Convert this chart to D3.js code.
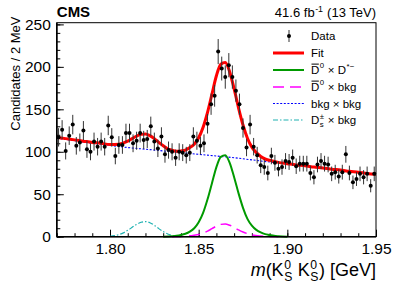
<!DOCTYPE html>
<html lang="en">
  <head>
    <meta charset="utf-8" />
    <title>m(KS KS) fit</title>
    <style>
      body { margin: 0; background: #fff; }
      svg text { font-family: "Liberation Sans", Arial, Helvetica, sans-serif; white-space: pre; }
    </style>
    <script src="https://cdn.jsdelivr.net/npm/d3@7/dist/d3.min.js"></script>
  </head>
  <body>
    <div id="main"></div>
    <script>
      // data: 2 MeV bins from 1.770 to 1.950 GeV (bin centers 1.771 ... 1.949)
      var binLo = 1.77, binW = 0.002;
      var counts = [
        117, 126, 101, 119, 132, 107, 111, 125, 103, 100,
        112, 106, 112, 106, 131, 117, 95, 108, 108, 122,
        122, 110, 113, 122, 114, 115, 130, 112, 104, 118,
        97, 102, 100, 93, 100, 99, 96, 99, 118, 113,
        107, 110, 133, 156, 166, 218, 198, 188, 202, 188,
        172, 156, 128, 105, 132, 106, 96, 84, 82, 75,
        95, 87, 80, 82, 89, 88, 93, 83, 86, 86,
        86, 75, 70, 85, 89, 86, 85, 74, 76, 71,
        76, 97, 75, 64, 68, 74, 70, 74, 60, 74
      ];

      // total fit
      var fitM = [1.77, 1.775, 1.78, 1.785, 1.79, 1.795, 1.8, 1.805, 1.81, 1.8125,
        1.815, 1.8175, 1.82, 1.8225, 1.825, 1.8275, 1.83, 1.8325, 1.835, 1.8375,
        1.84, 1.8425, 1.845, 1.8475, 1.85, 1.8525, 1.855, 1.8575, 1.86, 1.8625,
        1.865, 1.8675, 1.87, 1.8725, 1.875, 1.8775, 1.88, 1.8825, 1.885, 1.8875,
        1.89, 1.895, 1.9, 1.905, 1.91, 1.915, 1.92, 1.925, 1.93, 1.935,
        1.94, 1.945, 1.95];
      var fitV = [117, 115.5, 114, 112.5, 111, 110, 108.5, 109, 112.5, 115.5,
        118.5, 120.5, 121, 119, 115.5, 111, 107, 103.5, 102, 100.5,
        101, 102, 105, 109, 116.5, 129, 146.5, 168, 189.5, 203,
        205, 194, 174, 151.5, 131.5, 116, 105.5, 99, 94.5, 91.5,
        90, 87.5, 86, 84.5, 83.5, 82, 81, 79.5, 78.5, 77,
        76, 74.5, 73.5];

      // D0bar x D*- component
      var sigM = [1.83, 1.835, 1.8375, 1.84, 1.8425, 1.845, 1.8475, 1.85, 1.8525, 1.855,
        1.8575, 1.86, 1.8625, 1.865, 1.8675, 1.87, 1.8725, 1.875, 1.8775, 1.88,
        1.8825, 1.885, 1.8875, 1.89, 1.8925, 1.895, 1.9];
      var sigV = [0, 0.5, 1, 2, 3.5, 6, 10, 17, 28, 44,
        63, 82, 94, 96, 87, 70, 51, 34, 21, 13,
        8, 5, 3, 2, 1, 0.5, 0];

      // D0bar x bkg component
      var d0bkgM = [1.835, 1.84, 1.845, 1.85, 1.855, 1.8575, 1.86, 1.8625, 1.865, 1.8675,
        1.87, 1.8725, 1.875, 1.88, 1.885, 1.89, 1.895];
      var d0bkgV = [0, 0.3, 1, 2.5, 6.5, 9.5, 12.5, 14.5, 15, 13.5,
        11, 8, 5.5, 2.2, 0.8, 0.2, 0];

      // bkg x bkg component
      var bkgM = [1.77, 1.78, 1.79, 1.8, 1.81, 1.82, 1.83, 1.84, 1.85, 1.86,
        1.87, 1.88, 1.89, 1.9, 1.91, 1.92, 1.93, 1.94, 1.95];
      var bkgV = [116, 113, 110, 107.5, 105, 103, 101, 99, 97, 95,
        93, 90.5, 88, 86, 83.5, 81, 78.5, 76, 73.5];

      // Ds x bkg component
      var dsM = [1.8, 1.8025, 1.805, 1.8075, 1.81, 1.8125, 1.815, 1.8175, 1.82, 1.8225,
        1.825, 1.8275, 1.83, 1.8325, 1.835, 1.8375, 1.84];
      var dsV = [0.5, 1.2, 2.5, 4.5, 7.5, 11, 14.5, 17, 17.8, 16.5,
        13.5, 9.5, 6, 3.2, 1.5, 0.6, 0.2];

      var xTicks = [1.8, 1.85, 1.9, 1.95];
      var yTicks = [0, 50, 100, 150, 200, 250];

      var W = 399, H = 286;
      var pLeft = 56.8, pRight = 376, pTop = 22.7, pBottom = 236.7;

      var svg = d3
        .select("#main")
        .append("svg")
        .attr("width", W)
        .attr("height", H);

      var x = d3.scaleLinear().domain([1.77, 1.95]).range([pLeft, pRight]);
      var y = d3.scaleLinear().domain([0, 252]).range([pBottom, pTop]);

      // rich text: pieces with stacked super/subscripts
      function rich(g, px, py, parts, size, anchor, weight) {
        var grp = g.append("g");
        var cx = 0;
        parts.forEach(function (p) {
          if (p.t !== undefined) {
            var el = grp
              .append("text")
              .attr("x", cx)
              .attr("y", 0)
              .style("font-size", size + "px")
              .style("font-style", p.it ? "italic" : "normal")
              .style("font-weight", weight || "normal")
              .text(p.t);
            var w = el.node().getComputedTextLength();
            if (p.over) {
              grp
                .append("line")
                .attr("x1", cx + 0.5)
                .attr("x2", cx + w - 0.5)
                .attr("y1", -size * 0.86)
                .attr("y2", -size * 0.86)
                .attr("stroke", "#000")
                .attr("stroke-width", 1);
            }
            cx += w;
          } else {
            var ss = size * 0.68, w = 0;
            if (p.sup) {
              var e1 = grp
                .append("text")
                .attr("x", cx + 0.5)
                .attr("y", -size * (p.over ? 0.55 : 0.4))
                .style("font-size", ss + "px")
                .text(p.sup);
              w = Math.max(w, e1.node().getComputedTextLength());
            }
            if (p.sub) {
              var e2 = grp
                .append("text")
                .attr("x", cx + 0.5)
                .attr("y", size * 0.28)
                .style("font-size", ss + "px")
                .text(p.sub);
              w = Math.max(w, e2.node().getComputedTextLength());
            }
            cx += w + 1;
          }
        });
        var ox = anchor === "end" ? px - cx : px;
        grp.attr("transform", "translate(" + ox + "," + py + ")");
        return grp;
      }

      // axes (ticks point inward)
      var yMinor = d3.range(0, 251, 10);
      var xMinor = d3.range(1.77, 1.9501, 0.01);

      svg
        .append("g")
        .attr("transform", "translate(" + pLeft + ",0)")
        .call(d3.axisLeft(y).tickValues(yMinor).tickSize(-3.5).tickFormat(""))
        .call((g) => g.select(".domain").remove());
      svg
        .append("g")
        .attr("class", "y axis")
        .attr("transform", "translate(" + pLeft + ",0)")
        .call(d3.axisLeft(y).tickValues(yTicks).tickSize(-7).tickPadding(6))
        .call((g) => g.select(".domain").remove());

      svg
        .append("g")
        .attr("transform", "translate(0," + pBottom + ")")
        .call(d3.axisBottom(x).tickValues(xMinor).tickSize(-3.5).tickFormat(""))
        .call((g) => g.select(".domain").remove());
      svg
        .append("g")
        .attr("class", "x axis")
        .attr("transform", "translate(0," + pBottom + ")")
        .call(
          d3.axisBottom(x).tickValues(xTicks).tickSize(-7).tickPadding(6)
            .tickFormat(d3.format(".2f"))
        )
        .call((g) => g.select(".domain").remove());

      svg.selectAll(".axis text")
        .style("font-family", '"Liberation Sans", Arial, sans-serif')
        .style("font-size", "15.5px")
        .attr("fill", "#000");
      svg.selectAll(".tick line").attr("stroke", "#000");

      // curves
      function curve(ms, vs) {
        return d3
          .line()
          .x((d, i) => x(ms[i]))
          .y((d) => y(d))
          .curve(d3.curveMonotoneX)(vs);
      }

      var plot = svg.append("g");

      plot.append("path")
        .attr("d", curve(bkgM, bkgV))
        .attr("fill", "none")
        .attr("stroke", "#0000ff")
        .attr("stroke-width", 1.1)
        .attr("stroke-dasharray", "2,1.6");

      plot.append("path")
        .attr("d", curve(dsM, dsV))
        .attr("fill", "none")
        .attr("stroke", "#20b2b2")
        .attr("stroke-width", 1.2)
        .attr("stroke-dasharray", "5,2,1.5,2");

      plot.append("path")
        .attr("d", curve(d0bkgM, d0bkgV))
        .attr("fill", "none")
        .attr("stroke", "#ff00ff")
        .attr("stroke-width", 1.5)
        .attr("stroke-dasharray", "11,6");

      plot.append("path")
        .attr("d", curve(sigM, sigV))
        .attr("fill", "none")
        .attr("stroke", "#009a00")
        .attr("stroke-width", 2);

      plot.append("path")
        .attr("d", curve(fitM, fitV))
        .attr("fill", "none")
        .attr("stroke", "#ff0000")
        .attr("stroke-width", 3);

      // data points with Poisson errors
      var pts = plot
        .selectAll("g.pt")
        .data(counts)
        .enter()
        .append("g")
        .attr("class", "pt");

      pts.append("line")
        .attr("x1", (d, i) => x(binLo + (i + 0.5) * binW))
        .attr("x2", (d, i) => x(binLo + (i + 0.5) * binW))
        .attr("y1", (d) => y(d - Math.sqrt(d)))
        .attr("y2", (d) => y(d + Math.sqrt(d)))
        .attr("stroke", "#333")
        .attr("stroke-width", 1);

      pts.append("circle")
        .attr("cx", (d, i) => x(binLo + (i + 0.5) * binW))
        .attr("cy", (d) => y(d))
        .attr("r", 2)
        .attr("fill", "#000");

      // frame
      svg.append("rect")
        .attr("x", pLeft)
        .attr("y", pTop)
        .attr("width", pRight - pLeft)
        .attr("height", pBottom - pTop)
        .attr("fill", "none")
        .attr("stroke", "#000")
        .attr("stroke-width", 1);
      svg.append("line")
        .attr("x1", pLeft).attr("x2", pLeft).attr("y1", pTop).attr("y2", pBottom)
        .attr("stroke", "#000").attr("stroke-width", 1.6);
      svg.append("line")
        .attr("x1", pLeft).attr("x2", pRight).attr("y1", pBottom).attr("y2", pBottom)
        .attr("stroke", "#000").attr("stroke-width", 1.6);

      // titles
      svg.append("text")
        .attr("x", pLeft)
        .attr("y", 17)
        .style("font-size", "15px")
        .style("font-weight", "bold")
        .text("CMS");

      rich(svg, pRight, 17, [{ t: "41.6 fb" }, { sup: "-1" }, { t: " (13 TeV)" }], 13, "end");

      svg.append("text")
        .attr("transform", "translate(20,16.5) rotate(-90)")
        .attr("text-anchor", "end")
        .style("font-size", "13px")
        .text("Candidates / 2 MeV");

      rich(
        svg,
        pRight,
        276,
        [
          { t: "m", it: true },
          { t: "(K" },
          { sup: "0", sub: "S" },
          { t: " K" },
          { sup: "0", sub: "S" },
          { t: ") [GeV]" }
        ],
        18,
        "end"
      );

      // legend
      var legX1 = 273, legX2 = 304, legTx = 311;
      var rows = [36, 53, 70, 87, 103.5, 120];
      var leg = svg.append("g");

      leg.append("line")
        .attr("x1", 289).attr("x2", 289)
        .attr("y1", rows[0] - 6).attr("y2", rows[0] + 6)
        .attr("stroke", "#333");
      leg.append("circle").attr("cx", 289).attr("cy", rows[0]).attr("r", 2);

      var styles = [
        { c: "#ff0000", w: 3, dash: null },
        { c: "#009a00", w: 2, dash: null },
        { c: "#ff00ff", w: 1.5, dash: "11,6" },
        { c: "#0000ff", w: 1.1, dash: "2,1.6" },
        { c: "#20b2b2", w: 1.2, dash: "5,2,1.5,2" }
      ];
      styles.forEach(function (s, i) {
        leg.append("line")
          .attr("x1", legX1).attr("x2", legX2)
          .attr("y1", rows[i + 1]).attr("y2", rows[i + 1])
          .attr("stroke", s.c)
          .attr("stroke-width", s.w)
          .attr("stroke-dasharray", s.dash);
      });

      var fs = 11.5, base = 4;
      rich(leg, legTx, rows[0] + base, [{ t: "Data" }], fs);
      rich(leg, legTx, rows[1] + base, [{ t: "Fit" }], fs);
      rich(leg, legTx, rows[2] + base,
        [{ t: "D", over: true }, { sup: "0", over: true }, { t: " × D" }, { sup: "*−" }], fs);
      rich(leg, legTx, rows[3] + base,
        [{ t: "D", over: true }, { sup: "0", over: true }, { t: " × bkg" }], fs);
      rich(leg, legTx, rows[4] + base, [{ t: "bkg × bkg" }], fs);
      rich(leg, legTx, rows[5] + base, [{ t: "D" }, { sup: "±", sub: "s" }, { t: " × bkg" }], fs);
    </script>
  </body>
</html>
